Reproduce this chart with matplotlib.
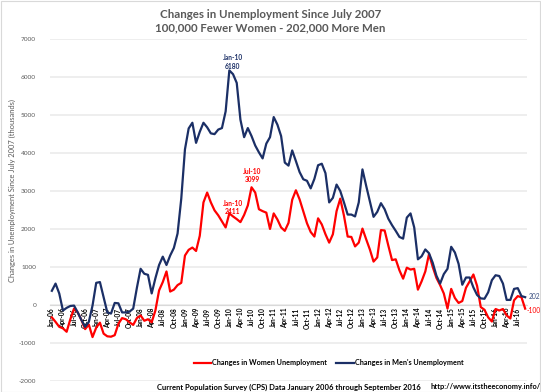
import matplotlib
matplotlib.use("Agg")
import matplotlib.pyplot as plt
from matplotlib.patches import Rectangle

# ---------------- data ----------------
month_names = ["Jan", "Feb", "Mar", "Apr", "May", "Jun", "Jul", "Aug", "Sep", "Oct", "Nov", "Dec"]
categories = [f"{m}-{y % 100:02d}" for y in range(2006, 2017) for m in month_names][:129]

men = [370, 560, 300, -150, -80, -30, -20, -200, -400, -580, -450, -20, 580, 600, 200, -200,
       -230, 50, 40, -200, -200, -180, -100, 450, 950, 820, 790, 300, 700, 1050, 1270, 1050,
       1300, 1500, 1880, 2800, 4100, 4650, 4800, 4270, 4560, 4800, 4680, 4520, 4500, 4620, 4660, 5100,
       6180, 6080, 5850, 4880, 4420, 4660, 4450, 4200, 4020, 3860, 4250, 4420, 4950, 4750, 4450, 3750,
       3670, 4070, 3790, 3500, 3310, 3270, 3070, 3320, 3680, 3720, 3470, 2700, 2820, 3170, 3000, 2700,
       2380, 2380, 2330, 2700, 3570, 3140, 2730, 2320, 2450, 2680, 2520, 2270, 2100, 1950, 1790, 1745,
       2300, 2410, 2040, 1200, 1280, 1460, 1360, 1110, 770, 560, 810, 950, 1530, 1380, 1080, 530,
       720, 720, 460, 260, 170, 160, 330, 650, 780, 760, 560, 130, 130, 420, 440, 230, 202]

women = [-330, -450, -580, -620, -710, -380, -100, -200, -400, -640, -520, -850, -600, -470, -760, -830,
         -840, -800, -500, -350, -380, -460, -530, -350, -280, -420, -380, -460, -150, 380, 600, 880,
         350, 400, 520, 580, 1300, 1450, 1510, 1420, 1820, 2700, 2960, 2700, 2490, 2360, 2200, 2040,
         2411, 2330, 2260, 2180, 2370, 2620, 3099, 2960, 2520, 2470, 2430, 2000, 2410, 2250, 2040, 1950,
         2160, 2770, 3020, 2780, 2460, 2150, 1920, 1800, 2280, 2120, 1860, 1640, 1860, 2470, 2800, 2350,
         1800, 1790, 1540, 1640, 2010, 1730, 1460, 1140, 1250, 1970, 1960, 1560, 1180, 1200, 910, 690,
         980, 930, 950, 400, 620, 880, 1340, 1000, 710, 520, 300, -100, 420, 180, 50, 100,
         450, 620, 800, 500, -60, -130, -330, -440, -110, -150, -110, -280, -360, 120, 230, 200, -100]

tick_step = 3
y_ticks = [-2000, -1000, 0, 1000, 2000, 3000, 4000, 5000, 6000, 7000]

title_lines = ["Changes in Unemployment Since July 2007", "100,000 Fewer Women - 202,000 More Men"]
ylabel = "Changes in Unemployment Since July 2007 (thousands)"
women_name = "Changes in Women Unemployment"
men_name = "Changes in Men's Unemployment"
source_text = "Current Population Survey (CPS) Data January 2006 through September 2016"
url_text = "http://www.itstheeconomy.info/"

# annotated points: (series, category)
annotations = [("men", "Jan-10"), ("women", "Jan-10"), ("women", "Jul-10")]

# ---------------- style ----------------
W, H = 541, 392
NAVY = "#1B2F66"
RED = "#FF0000"
GRAY = "#595959"
GRID = "#EBEBEB"
FONT = ["Lato", "DejaVu Sans"]

plt.rcParams["font.family"] = FONT

fig = plt.figure(figsize=(W / 100, H / 100), dpi=100)
fig.patch.set_facecolor("white")

left, right, top, bottom = 50, 527, 39.3, 380.7
ax = fig.add_axes([left / W, 1 - bottom / H, (right - left) / W, (bottom - top) / H])

for s in ["top", "right", "left"]:
    ax.spines[s].set_visible(False)
ax.spines["bottom"].set_position(("data", 0))
ax.spines["bottom"].set_color("#D9D9D9")
ax.spines["bottom"].set_linewidth(0.8)
ax.set_facecolor("none")

x = list(range(len(categories)))
ax.plot(x, women, color=RED, lw=1.6, solid_joinstyle="round", zorder=3, label=women_name)
ax.plot(x, men, color=NAVY, lw=1.6, solid_joinstyle="round", zorder=3, label=men_name)

ax.set_xlim(-0.5, len(categories) - 0.5)
ax.set_ylim(min(y_ticks), max(y_ticks))
ax.set_yticks(y_ticks)
ax.set_yticklabels([str(v) for v in y_ticks], fontsize=4.6, color=GRAY)
ax.tick_params(axis="y", length=0, pad=10)
ax.grid(axis="y", color=GRID, lw=1.2, zorder=0)
ax.set_axisbelow(True)

tick_pos = x[::tick_step]
ax.set_xticks(tick_pos)
ax.set_xticklabels([categories[i] for i in tick_pos], rotation=90, fontsize=4.7,
                   fontweight="bold", color="black", va="top", ha="center")
ax.tick_params(axis="x", length=0, pad=2)

# annotations
series = {"men": (men, NAVY), "women": (women, RED)}
offsets = {("men", "Jan-10"): (2.5, 0.5), ("women", "Jan-10"): (2.5, -1.5), ("women", "Jul-10"): (0.5, 3.0)}
for name, cat in annotations:
    vals, col = series[name]
    i = categories.index(cat)
    ax.annotate(f"{cat}\n{vals[i]}", xy=(i, vals[i]), xytext=offsets[(name, cat)],
                textcoords="offset points", ha="center", va="bottom", fontsize=4.8,
                fontweight="bold", color=col, linespacing=1.25, zorder=5)

# end labels
last = len(categories) - 1
ax.annotate(f"{men[last]}", xy=(last, men[last]), xytext=(2.5, 0.5), textcoords="offset points",
            ha="left", va="center", fontsize=4.8, color="#3A4F80", zorder=5, annotation_clip=False)
ax.annotate(f"{women[last]}", xy=(last, women[last]), xytext=(0.8, -1), textcoords="offset points",
            ha="left", va="center", fontsize=4.8, color=RED, zorder=5, annotation_clip=False)

# titles and texts
fig.text(270.5 / W, 1 - 14 / H, title_lines[0], ha="center", va="center", fontsize=8.3,
         fontweight="bold", color=GRAY)
fig.text(270.5 / W, 1 - 28 / H, title_lines[1], ha="center", va="center", fontsize=8.3,
         fontweight="bold", color=GRAY)
fig.text(12 / W, 1 - 190 / H, ylabel, rotation=90, ha="center", va="center", fontsize=5.4,
         color=GRAY)

leg = fig.legend(loc="center", bbox_to_anchor=(328.5 / W, 1 - 363 / H), ncol=2, frameon=False,
                 handlelength=2.4, handletextpad=0.15, columnspacing=1.3,
                 prop={"weight": "bold", "size": 5.2})

fig.text(289 / W, 1 - 387 / H, source_text, ha="center", va="center", fontsize=5.5,
         fontweight="bold", color="black")
fig.text(485.5 / W, 1 - 387 / H, url_text, ha="center", va="center", fontsize=5.3,
         fontweight="bold", color="black")

# chart border
fig.add_artist(Rectangle((0.5 / W, 0.5 / H), 1 - 1.5 / W, 1 - 1.5 / H, transform=fig.transFigure,
                         fill=False, edgecolor="#D9D9D9", lw=0.8))

fig.savefig("out.png", dpi=100, facecolor="white")
